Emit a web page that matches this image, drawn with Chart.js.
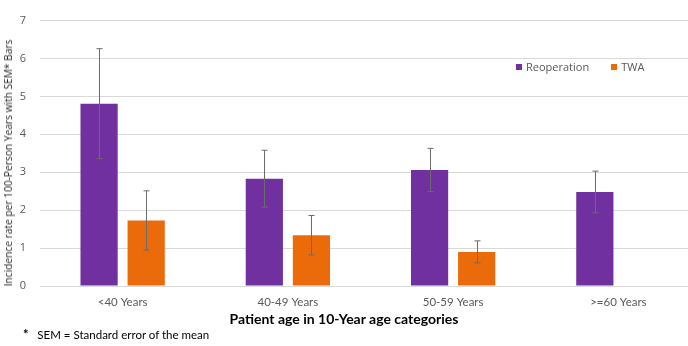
<!DOCTYPE html>
<html>
<head>
<meta charset="utf-8">
<script src="https://cdn.jsdelivr.net/npm/chart.js@4.4.1/dist/chart.umd.min.js"></script>
<style>
  body { margin: 0; background: #fff; width: 688px; height: 346px; overflow: hidden; position: relative; }
  #wrap { position: absolute; left: 0; top: 0; width: 702px; height: 320px; }
  .lbl { position: absolute; white-space: nowrap; }
  #ytitle { left: 8px; top: 163px; transform: translate(-50%, -50%) rotate(-90deg); font: 10.2px "Open Sans", sans-serif; color: #262626; }
  #xtitle { left: 344px; top: 318px; transform: translate(-50%, -50%); font: bold 14px Lato, sans-serif; color: #000; }
  #note { left: 23px; top: 334px; transform: translateY(-50%); font: 11.5px Lato, sans-serif; color: #000; }
  #note b { font-size: 13px; }
  #legend { left: 516px; top: 59px; font: 11px "Open Sans", sans-serif; color: #595959; }
  #legend span.sw { display: inline-block; width: 6px; height: 6px; margin-right: 4px; vertical-align: 1px; }
</style>
</head>
<body>
<div id="wrap"><canvas id="chart" width="702" height="320"></canvas></div>
<div class="lbl" id="ytitle">Incidence rate per 100-Person Years with SEM* Bars</div>
<div class="lbl" id="xtitle">Patient age in 10-Year age categories</div>
<div class="lbl" id="note"><b>*</b>&nbsp;&nbsp;&nbsp;SEM = Standard error of the mean</div>
<div class="lbl" id="legend"><span class="sw" style="background:#7030a0"></span>Reoperation<span class="sw" style="background:#eb6b0a;margin-left:22px"></span>TWA</div>
<script>
const categories = ["<40 Years", "40-49 Years", "50-59 Years", ">=60 Years"];
const reoperation = [4.81, 2.83, 3.06, 2.48];
const reoperationSem = [1.45, 0.75, 0.57, 0.55];
const twa = [1.73, 1.34, 0.90, null];
const twaSem = [0.78, 0.52, 0.29, null];
const yTicks = [0, 1, 2, 3, 4, 5, 6, 7];

// draws SEM whiskers on top of each bar
const errorBars = {
  id: "errorBars",
  afterDatasetsDraw(chart) {
    const ctx = chart.ctx;
    const y = chart.scales.y;
    ctx.save();
    ctx.strokeStyle = "#6b6b6b";
    ctx.lineWidth = 1;
    chart.data.datasets.forEach((ds, i) => {
      const meta = chart.getDatasetMeta(i);
      meta.data.forEach((bar, j) => {
        const v = ds.data[j];
        const e = ds.sem[j];
        if (v == null || e == null) return;
        const x = Math.round(bar.x) + 0.5;
        const top = y.getPixelForValue(v + e);
        const bot = y.getPixelForValue(v - e);
        ctx.beginPath();
        ctx.moveTo(x, top); ctx.lineTo(x, bot);
        ctx.moveTo(x - 3, top); ctx.lineTo(x + 3, top);
        ctx.moveTo(x - 3, bot); ctx.lineTo(x + 3, bot);
        ctx.stroke();
      });
    });
    ctx.restore();
  }
};

new Chart(document.getElementById("chart"), {
  type: "bar",
  data: {
    labels: categories,
    datasets: [
      { label: "Reoperation", data: reoperation, sem: reoperationSem, backgroundColor: "#7030a0" },
      { label: "TWA", data: twa, sem: twaSem, backgroundColor: "#eb6b0a" },
    ],
  },
  options: {
    responsive: false,
    animation: false,
    layout: { padding: { top: 7, left: 0, right: 1, bottom: 0 } },
    datasets: { bar: { categoryPercentage: 0.57, barPercentage: 0.79 } },
    plugins: { legend: { display: false }, tooltip: { enabled: false } },
    scales: {
      x: {
        grid: { display: false, drawTicks: false },
        border: { display: false },
        ticks: { color: "#595959", padding: 9, font: { family: "Lato", size: 11.5 } },
        afterFit: (s) => { s.height = 34; },
      },
      y: {
        min: 0,
        max: 7,
        afterBuildTicks: (s) => { s.ticks = yTicks.map((v) => ({ value: v })); },
        grid: { color: "#d9d9d9", drawTicks: false },
        border: { display: false },
        ticks: { color: "#595959", padding: 14, font: { family: "Open Sans", size: 11 } },
        afterFit: (s) => { s.width = 40; },
      },
    },
  },
  plugins: [errorBars],
});
</script>
</body>
</html>
